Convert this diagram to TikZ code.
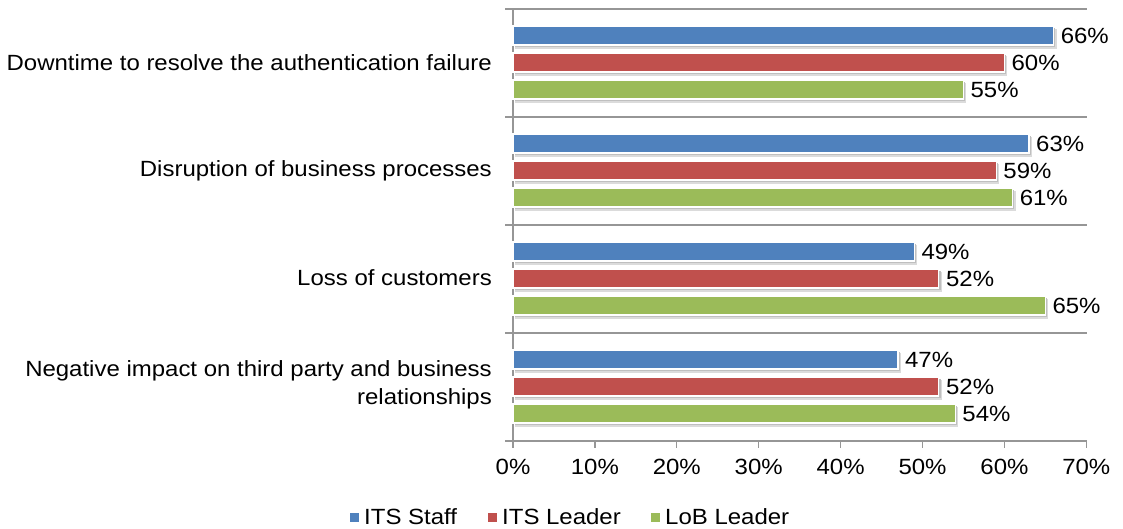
\documentclass[tikz,border=0pt]{standalone}
\usepackage{fontspec}
\setmainfont{Liberation Sans}[FakeStretch=1.09]
\definecolor{itsstaff}{HTML}{4F81BD}
\definecolor{itsleader}{HTML}{C0504D}
\definecolor{lobleader}{HTML}{9BBB59}
\definecolor{axisgray}{HTML}{969696}
\begin{document}
\begin{tikzpicture}[x=1pt,y=-1pt,
		font=\fontsize{22}{28}\selectfont,
		axisline/.style={draw=axisgray,line width=1.3pt},
		bar/.style={draw=white,line width=1.2pt},
		barshade/.style={fill=black!14},
		vlabel/.style={anchor=west,inner sep=0pt},
		catlabel/.style={anchor=east,align=right,inner sep=0pt}]
		
		\useasboundingbox (0,0) rectangle (1123,529);
		
		% category separators and axes
		\foreach \yy in {9,117,225,333}
		\draw[axisline] (505,\yy)--(1087,\yy);
		\draw[axisline] (505,441)--(1087,441);
		\draw[axisline] (513,9)--(513,441);
		
		\foreach \t [count=\i from 0] in {0,10,...,70}{
			\draw[axisline] (513+81.9*\i,441)--++(0,7);
			\node (tick-\t) at (513+81.9*\i,467) {\t\%};
		}
		
		% bars
		\foreach \ser/\col/\off/\vals in {s/itsstaff/26/{66,63,49,47},
			l/itsleader/53/{60,59,52,52},
			b/lobleader/80/{55,61,65,54}}{
			\foreach \v [count=\k from 0] in \vals{
				\pgfmathsetmacro{\yt}{\off+108*\k}
				\pgfmathsetmacro{\xe}{513+8.19*\v}
				\fill[barshade] (515,\yt+3) rectangle (\xe+3,\yt+23);
				\fill[black!25] (515,\yt+2) rectangle (\xe+1.8,\yt+21);
				\draw[bar,fill=\col] (513,\yt) rectangle (\xe,\yt+19);
				\node[vlabel] (\ser-\k) at (\xe+7,\yt+9.5) {\v\%};
			}
		}
		
		% categories
		\node[catlabel] (cat-1) at (492,63) {Downtime to resolve the authentication failure};
		\node[catlabel] (cat-2) at (492,171) {Disruption of business processes};
		\node[catlabel] (cat-3) at (492,278) {Loss of customers};
		\node[catlabel] (cat-4) at (492,385) {Negative impact on third party and business\\relationships};
		
		% legend
		\fill[itsstaff] (350,513)rectangle++(8.5,8.5);
		\node[vlabel] (leg-s) at (364,517) {ITS Staff};
		\fill[itsleader] (488,513)rectangle++(8.5,8.5);
		\node[vlabel] (leg-l) at (502,517) {ITS Leader};
		\fill[lobleader] (651,513)rectangle++(8.5,8.5);
		\node[vlabel] (leg-b) at (665,517) {LoB Leader};
	\end{tikzpicture}
\end{document}
